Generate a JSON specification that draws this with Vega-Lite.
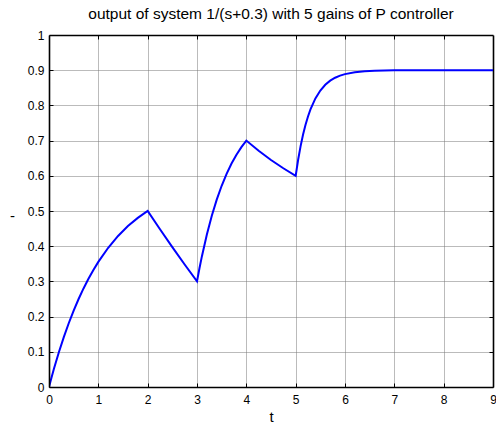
{
  "$schema": "https://vega.github.io/schema/vega-lite/v6.json",
  "autosize": "none",
  "width": 444,
  "height": 352,
  "padding": {"left": 49, "top": 35, "right": 3, "bottom": 39},
  "background": "white",
  "title": {
    "text": "output of system 1/(s+0.3) with 5 gains of P controller",
    "font": "Liberation Sans",
    "fontSize": 15.5,
    "fontWeight": "normal",
    "color": "#000",
    "offset": 7,
    "anchor": "middle"
  },
  "config": {
    "view": {"stroke": null},
    "axis": {
      "labelFont": "Liberation Sans",
      "labelFontSize": 12,
      "labelColor": "#000",
      "titleFont": "Liberation Sans",
      "titleFontWeight": "normal",
      "titleColor": "#000",
      "domain": true,
      "domainColor": "#000",
      "domainWidth": 1.6,
      "tickColor": "#000",
      "tickWidth": 1,
      "tickSize": -4,
      "gridColor": "#777",
      "gridDash": [1, 1],
      "gridOpacity": 1
    }
  },
  "data": {
    "values": [
      {"t": 0, "y": 0},
      {"t": 0.05, "y": 0.0264},
      {"t": 0.1, "y": 0.0516},
      {"t": 0.2, "y": 0.0987},
      {"t": 0.3, "y": 0.1417},
      {"t": 0.4, "y": 0.1811},
      {"t": 0.5, "y": 0.2171},
      {"t": 0.6, "y": 0.25},
      {"t": 0.7, "y": 0.28},
      {"t": 0.8, "y": 0.3074},
      {"t": 0.9, "y": 0.3325},
      {"t": 1.0, "y": 0.3554},
      {"t": 1.2, "y": 0.3956},
      {"t": 1.4, "y": 0.4291},
      {"t": 1.6, "y": 0.4571},
      {"t": 1.8, "y": 0.4805},
      {"t": 2.0, "y": 0.5},
      {"t": 2.25, "y": 0.4481},
      {"t": 2.5, "y": 0.3975},
      {"t": 2.75, "y": 0.3481},
      {"t": 3.0, "y": 0.3},
      {"t": 3.05, "y": 0.3372},
      {"t": 3.1, "y": 0.3717},
      {"t": 3.2, "y": 0.4335},
      {"t": 3.3, "y": 0.4866},
      {"t": 3.4, "y": 0.5324},
      {"t": 3.5, "y": 0.5717},
      {"t": 3.6, "y": 0.6056},
      {"t": 3.7, "y": 0.6348},
      {"t": 3.8, "y": 0.6599},
      {"t": 3.9, "y": 0.6815},
      {"t": 4.0, "y": 0.7},
      {"t": 4.25, "y": 0.6711},
      {"t": 4.5, "y": 0.645},
      {"t": 4.75, "y": 0.6214},
      {"t": 5.0, "y": 0.6},
      {"t": 5.05, "y": 0.6456},
      {"t": 5.1, "y": 0.6843},
      {"t": 5.15, "y": 0.7171},
      {"t": 5.2, "y": 0.7449},
      {"t": 5.25, "y": 0.7685},
      {"t": 5.3, "y": 0.7885},
      {"t": 5.4, "y": 0.8199},
      {"t": 5.5, "y": 0.8424},
      {"t": 5.6, "y": 0.8586},
      {"t": 5.7, "y": 0.8702},
      {"t": 5.8, "y": 0.8786},
      {"t": 5.9, "y": 0.8846},
      {"t": 6.0, "y": 0.8889},
      {"t": 6.2, "y": 0.8943},
      {"t": 6.4, "y": 0.897},
      {"t": 6.6, "y": 0.8985},
      {"t": 6.8, "y": 0.8992},
      {"t": 7.0, "y": 0.8996},
      {"t": 7.5, "y": 0.8999},
      {"t": 8.0, "y": 0.9},
      {"t": 9.0, "y": 0.9}
    ]
  },
  "layer": [
    {
      "mark": {"type": "line", "strokeOpacity": 0},
      "encoding": {
        "x": {
          "field": "t", "type": "quantitative",
          "scale": {"domain": [0, 9], "nice": false, "zero": false},
          "axis": {"orient": "top", "values": [1, 2, 3, 4, 5, 6, 7, 8], "labels": false, "grid": true, "title": null, "zindex": 0}
        },
        "y": {
          "field": "y", "type": "quantitative",
          "scale": {"domain": [0, 1], "nice": false},
          "axis": {"orient": "right", "values": [0.1, 0.2, 0.3, 0.4, 0.5, 0.6, 0.7, 0.8, 0.9], "labels": false, "grid": true, "title": null, "zindex": 0}
        }
      }
    },
    {
      "mark": {"type": "line", "color": "#0000ff", "strokeWidth": 2, "clip": true},
      "encoding": {
        "x": {
          "field": "t", "type": "quantitative",
          "axis": {
            "orient": "bottom",
            "values": [0, 1, 2, 3, 4, 5, 6, 7, 8, 9],
            "grid": false,
            "zindex": 1,
            "title": "t",
            "titleFontSize": 15,
            "labelPadding": 11,
            "titlePadding": 4,
            "labelFlush": false
          }
        },
        "y": {
          "field": "y", "type": "quantitative",
          "axis": {
            "orient": "left",
            "values": [0, 0.1, 0.2, 0.3, 0.4, 0.5, 0.6, 0.7, 0.8, 0.9, 1],
            "format": ".1~f",
            "grid": false,
            "zindex": 1,
            "title": "-",
            "titleFontSize": 15,
            "titleAngle": 0,
            "titleX": -37,
            "titleY": 180,
            "titleAlign": "center",
            "titleBaseline": "middle",
            "labelPadding": 9,
            "labelFlush": false
          }
        }
      }
    }
  ],
  "resolve": {"axis": {"x": "independent", "y": "independent"}}
}
